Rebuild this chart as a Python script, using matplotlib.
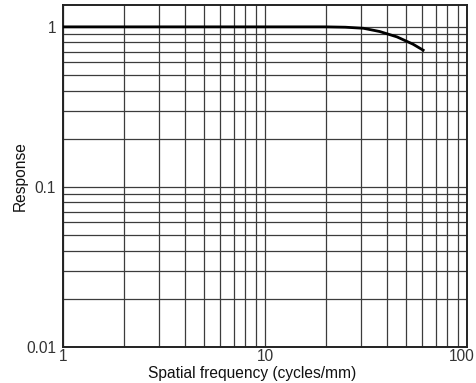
#!/usr/bin/env python3
"""MTF-style response curve on log-log axes."""

import matplotlib
matplotlib.use("Agg")
matplotlib.rcParams.update({
    "font.family": "sans-serif",
    "font.sans-serif": ["Liberation Sans", "DejaVu Sans"],
})

import matplotlib.pyplot as plt
import matplotlib.ticker as mticker
from matplotlib.transforms import ScaledTranslation

# data
freq = [1, 5, 10, 20, 25, 30.7, 37, 45, 54, 61.5]
response = [1.0, 1.0, 1.0, 1.0, 0.995, 0.98, 0.935, 0.866, 0.78, 0.708]

x_ticks = [1, 10, 100]
x_tick_labels = ["1", "10", "100"]
y_ticks = [0.01, 0.1, 1]
y_tick_labels = ["0.01", "0.1", "1"]

C_GRID = "#3c3c3c"
C_TEXT = "#333333"
FS = 11.2


def main() -> None:
    fig = plt.figure(figsize=(4.77, 3.83), dpi=100)
    ax = fig.add_axes([0.132, 0.094, 0.847, 0.893])

    ax.set_xscale("log")
    ax.set_yscale("log")
    ax.set_xlim(1, 100)
    ax.set_ylim(0.01, 1.37)

    ax.plot(freq, response, color="black", linewidth=2.0, solid_capstyle="butt", zorder=3)

    # ── grid: decades + 2..9 subdivisions ────────────────────────────────────
    ax.xaxis.set_minor_locator(mticker.LogLocator(base=10, subs=range(2, 10)))
    ax.yaxis.set_minor_locator(mticker.LogLocator(base=10, subs=range(2, 10)))
    ax.xaxis.set_minor_formatter(mticker.NullFormatter())
    ax.yaxis.set_minor_formatter(mticker.NullFormatter())
    ax.grid(True, which="both", color=C_GRID, linewidth=0.9)

    ax.set_xticks(x_ticks)
    ax.set_xticklabels(x_tick_labels)
    ax.set_yticks(y_ticks)
    ax.set_yticklabels(y_tick_labels)
    ax.tick_params(which="both", length=0)
    ax.tick_params(axis="x", pad=1.5, labelsize=FS, labelcolor=C_TEXT)
    ax.tick_params(axis="y", pad=5, labelsize=FS, labelcolor=C_TEXT)

    # keep "100" inside the figure, like the reference
    last = ax.get_xticklabels()[-1]
    last.set_transform(last.get_transform() + ScaledTranslation(-5 / 100, 0, fig.dpi_scale_trans))

    for sp in ax.spines.values():
        sp.set_color("#222222")
        sp.set_linewidth(1.4)

    ax.set_xlabel("Spatial frequency (cycles/mm)", fontsize=FS, color="#111111")
    ax.xaxis.set_label_coords(0.468, -0.057)
    ax.set_ylabel("Response", fontsize=FS, labelpad=-1, color="#111111")

    fig.savefig("out.png", dpi=100, facecolor="white")
    plt.close(fig)


if __name__ == "__main__":
    main()
